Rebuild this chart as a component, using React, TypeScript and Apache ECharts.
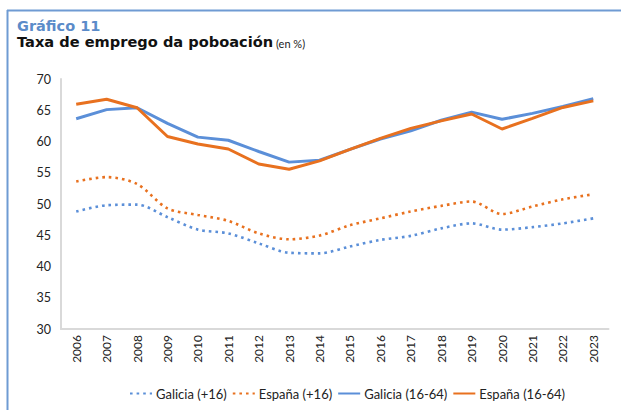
import React, { useEffect, useRef } from "react";
import * as echarts from "echarts";

const years = ["2006","2007","2008","2009","2010","2011","2012","2013","2014","2015","2016","2017","2018","2019","2020","2021","2022","2023"];
const galicia16: number[] = [48.8,49.8,49.9,47.9,45.9,45.3,43.7,42.2,42.1,43.2,44.25,44.9,46.1,46.9,45.9,46.3,46.9,47.7];
const espana16: number[] = [53.6,54.3,53.2,49.3,48.25,47.3,45.3,44.35,44.95,46.6,47.7,48.8,49.7,50.4,48.4,49.6,50.75,51.55];
const galicia1664: number[] = [63.65,65.1,65.4,62.9,60.7,60.2,58.4,56.7,57.0,58.75,60.4,61.7,63.4,64.7,63.55,64.5,65.6,66.85];
const espana1664: number[] = [65.95,66.75,65.4,60.8,59.6,58.8,56.4,55.55,56.9,58.75,60.5,62.1,63.3,64.4,62.0,63.7,65.45,66.5];
const seriesNames = ["Galicia (+16)", "España (+16)", "Galicia (16-64)", "España (16-64)"];

const BLUE = "#5B8FD8";
const ORANGE = "#E8711F";
const FONT = "Lato, 'Open Sans', sans-serif";
const TITLE_FONT = "'DejaVu Sans', sans-serif";

export default function App() {
  const ref = useRef<HTMLDivElement>(null);
  useEffect(() => {
    document.body.style.margin = "0";
    const chart = echarts.init(ref.current!, null, { renderer: "svg" });
    const dotted = (color: string) => ({ color, width: 2.6, type: [2.6, 4] as any, cap: "butt" as any });
    chart.setOption({
      animation: false,
      backgroundColor: "#ffffff",
      textStyle: { fontFamily: FONT },
      graphic: [
        { type: "line", shape: { x1: 7, y1: 10.5, x2: 621, y2: 10.5 }, style: { stroke: "#6F9BD3", lineWidth: 2 } },
        { type: "line", shape: { x1: 7.5, y1: 10, x2: 7.5, y2: 410 }, style: { stroke: "#6F9BD3", lineWidth: 2 } },
        { type: "text", left: 17, top: 18, style: { text: "Gráfico 11", fill: "#5B8BC9", font: `bold 14.5px ${TITLE_FONT}` } },
        { type: "text", left: 17, top: 34, style: { text: "Taxa de emprego da poboación", fill: "#111111", font: `bold 14.6px ${TITLE_FONT}` } },
        { type: "text", left: 276, top: 38, style: { text: "(en %)", fill: "#222222", font: `11px ${FONT}` } },
      ],
      grid: { left: 61, right: 12.5, top: 79, bottom: 81 },
      legend: {
        bottom: 10,
        left: 129,
        padding: 0,
        itemWidth: 22,
        itemHeight: 10,
        itemGap: 5,
        data: seriesNames,
        itemStyle: { opacity: 0 },
        textStyle: { fontSize: 13, color: "#222222", fontFamily: FONT, padding: [0, 0, 0, -1] },
      },
      xAxis: {
        type: "category",
        data: years,
        boundaryGap: true,
        axisLine: { lineStyle: { color: "#D9D9D9", width: 2 } },
        axisTick: { show: false },
        axisLabel: { rotate: 90, fontSize: 12, color: "#222222", margin: 6, interval: 0 },
      },
      yAxis: {
        type: "value",
        min: 30,
        max: 70,
        interval: 5,
        splitLine: { show: false },
        axisLine: { show: true, lineStyle: { color: "#D9D9D9", width: 2 } },
        axisTick: { show: false },
        axisLabel: { fontSize: 12.5, color: "#222222", margin: 10 },
      },
      series: [
        { name: seriesNames[0], type: "line", data: galicia16, symbol: "none", smooth: 0.3, lineStyle: dotted(BLUE), itemStyle: { color: BLUE } },
        { name: seriesNames[1], type: "line", data: espana16, symbol: "none", smooth: 0.3, lineStyle: dotted(ORANGE), itemStyle: { color: ORANGE } },
        { name: seriesNames[2], type: "line", data: galicia1664, symbol: "none", lineStyle: { color: BLUE, width: 3 }, itemStyle: { color: BLUE } },
        { name: seriesNames[3], type: "line", data: espana1664, symbol: "none", lineStyle: { color: ORANGE, width: 3 }, itemStyle: { color: ORANGE } },
      ],
    });
    return () => chart.dispose();
  }, []);
  return <div ref={ref} style={{ width: 621, height: 410, position: "absolute", left: 0, top: 0 }} />;
}
